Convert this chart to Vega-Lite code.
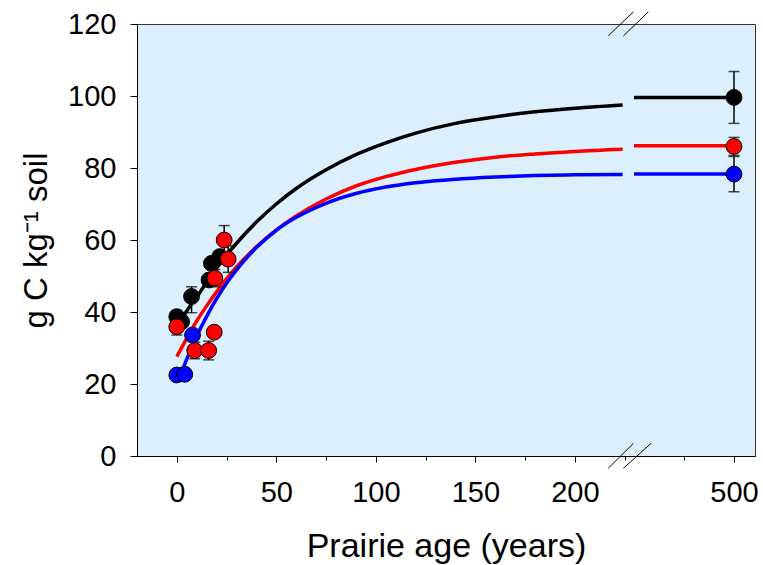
{
  "$schema": "https://vega.github.io/schema/vega-lite/v6.json",
  "width": 618,
  "height": 432,
  "autosize": {"type": "none"},
  "padding": {"left": 137, "top": 24, "right": 8, "bottom": 109},
  "background": "white",
  "config": {
    "view": {"fill": "#DBEFFC", "stroke": "#333333", "strokeWidth": 1},
    "axis": {
      "labelFont": "Liberation Sans",
      "titleFont": "Liberation Sans",
      "labelColor": "#000",
      "titleColor": "#000",
      "domainColor": "#000",
      "tickColor": "#000",
      "grid": false,
      "titleFontWeight": "normal"
    }
  },
  "datasets": {
    "curves": [
      {"series": "S1", "seg": "a", "age": 0, "C": 36.0},
      {"series": "S1", "seg": "a", "age": 5, "C": 40.3},
      {"series": "S1", "seg": "a", "age": 10, "C": 44.1},
      {"series": "S1", "seg": "a", "age": 15, "C": 48.3},
      {"series": "S1", "seg": "a", "age": 20, "C": 52.2},
      {"series": "S1", "seg": "a", "age": 25, "C": 55.8},
      {"series": "S1", "seg": "a", "age": 30, "C": 59.1},
      {"series": "S1", "seg": "a", "age": 40, "C": 65.0},
      {"series": "S1", "seg": "a", "age": 50, "C": 70.0},
      {"series": "S1", "seg": "a", "age": 60, "C": 74.3},
      {"series": "S1", "seg": "a", "age": 75, "C": 79.5},
      {"series": "S1", "seg": "a", "age": 90, "C": 83.7},
      {"series": "S1", "seg": "a", "age": 105, "C": 87.0},
      {"series": "S1", "seg": "a", "age": 120, "C": 89.7},
      {"series": "S1", "seg": "a", "age": 140, "C": 92.4},
      {"series": "S1", "seg": "a", "age": 160, "C": 94.2},
      {"series": "S1", "seg": "a", "age": 180, "C": 95.6},
      {"series": "S1", "seg": "a", "age": 200, "C": 96.6},
      {"series": "S1", "seg": "a", "age": 224, "C": 97.5},
      {"series": "S1", "seg": "b", "age": 450, "C": 99.6},
      {"series": "S1", "seg": "b", "age": 500, "C": 99.6},
      {"series": "S2", "seg": "a", "age": 0, "C": 27.6},
      {"series": "S2", "seg": "a", "age": 5, "C": 32.7},
      {"series": "S2", "seg": "a", "age": 10, "C": 37.5},
      {"series": "S2", "seg": "a", "age": 15, "C": 41.7},
      {"series": "S2", "seg": "a", "age": 20, "C": 45.6},
      {"series": "S2", "seg": "a", "age": 25, "C": 49.2},
      {"series": "S2", "seg": "a", "age": 30, "C": 52.5},
      {"series": "S2", "seg": "a", "age": 40, "C": 58.1},
      {"series": "S2", "seg": "a", "age": 50, "C": 62.8},
      {"series": "S2", "seg": "a", "age": 60, "C": 66.7},
      {"series": "S2", "seg": "a", "age": 75, "C": 71.4},
      {"series": "S2", "seg": "a", "age": 90, "C": 75.0},
      {"series": "S2", "seg": "a", "age": 105, "C": 77.6},
      {"series": "S2", "seg": "a", "age": 120, "C": 79.6},
      {"series": "S2", "seg": "a", "age": 140, "C": 81.6},
      {"series": "S2", "seg": "a", "age": 160, "C": 83.0},
      {"series": "S2", "seg": "a", "age": 180, "C": 83.9},
      {"series": "S2", "seg": "a", "age": 200, "C": 84.6},
      {"series": "S2", "seg": "a", "age": 224, "C": 85.2},
      {"series": "S2", "seg": "b", "age": 450, "C": 86.2},
      {"series": "S2", "seg": "b", "age": 500, "C": 86.2},
      {"series": "S3", "seg": "a", "age": 1, "C": 21.2},
      {"series": "S3", "seg": "a", "age": 5, "C": 26.9},
      {"series": "S3", "seg": "a", "age": 10, "C": 33.3},
      {"series": "S3", "seg": "a", "age": 15, "C": 38.8},
      {"series": "S3", "seg": "a", "age": 20, "C": 43.7},
      {"series": "S3", "seg": "a", "age": 25, "C": 48.0},
      {"series": "S3", "seg": "a", "age": 30, "C": 51.7},
      {"series": "S3", "seg": "a", "age": 40, "C": 57.9},
      {"series": "S3", "seg": "a", "age": 50, "C": 62.7},
      {"series": "S3", "seg": "a", "age": 60, "C": 66.3},
      {"series": "S3", "seg": "a", "age": 75, "C": 70.2},
      {"series": "S3", "seg": "a", "age": 90, "C": 72.9},
      {"series": "S3", "seg": "a", "age": 105, "C": 74.7},
      {"series": "S3", "seg": "a", "age": 120, "C": 75.9},
      {"series": "S3", "seg": "a", "age": 140, "C": 76.9},
      {"series": "S3", "seg": "a", "age": 160, "C": 77.5},
      {"series": "S3", "seg": "a", "age": 180, "C": 77.9},
      {"series": "S3", "seg": "a", "age": 200, "C": 78.1},
      {"series": "S3", "seg": "a", "age": 224, "C": 78.2},
      {"series": "S3", "seg": "b", "age": 450, "C": 78.3},
      {"series": "S3", "seg": "b", "age": 500, "C": 78.3}
    ],
    "pts": [
      {"series": "S1", "age": 0, "C": 38.7, "lo": 37.0, "hi": 40.4},
      {"series": "S1", "age": 2.4, "C": 37.3},
      {"series": "S1", "age": 7.4, "C": 44.3, "lo": 39.8, "hi": 47.0},
      {"series": "S1", "age": 16.2, "C": 48.9},
      {"series": "S1", "age": 17.4, "C": 53.5},
      {"series": "S1", "age": 21.6, "C": 55.4},
      {"series": "S1", "age": 500, "C": 99.6, "lo": 92.4, "hi": 106.8},
      {"series": "S2", "age": 0, "C": 35.9, "lo": 33.6, "hi": 38.2},
      {"series": "S2", "age": 9, "C": 29.3, "lo": 27.0, "hi": 31.6},
      {"series": "S2", "age": 16, "C": 29.3, "lo": 26.7, "hi": 31.9},
      {"series": "S2", "age": 18.8, "C": 34.4},
      {"series": "S2", "age": 19.1, "C": 49.4, "lo": 47.0, "hi": 51.8},
      {"series": "S2", "age": 23.8, "C": 60.0, "lo": 56.0, "hi": 64.0},
      {"series": "S2", "age": 25.8, "C": 54.7, "lo": 51.0, "hi": 58.4},
      {"series": "S2", "age": 500, "C": 86.0, "lo": 83.5, "hi": 88.5},
      {"series": "S3", "age": 0, "C": 22.5},
      {"series": "S3", "age": 4, "C": 22.7},
      {"series": "S3", "age": 7.9, "C": 33.6},
      {"series": "S3", "age": 500, "C": 78.3, "lo": 73.4, "hi": 83.2}
    ],
    "brk": [
      {"x1": 216.8, "x2": 449.7, "y1": 116.7, "y2": 123.4},
      {"x1": 224.4, "x2": 457.2, "y1": 116.7, "y2": 123.4},
      {"x1": 216.8, "x2": 449.7, "y1": -3.4, "y2": 3.5},
      {"x1": 224.4, "x2": 458.5, "y1": -3.4, "y2": 3.5}
    ]
  },
  "layer": [
    {
      "layer": [
        {
          "data": {"name": "curves"},
          "mark": {"type": "line", "strokeWidth": 3.5, "interpolate": "monotone"},
          "encoding": {
            "x": {
              "field": "age", "type": "quantitative",
              "scale": {"domain": [-20, 226.7, 447, 510.5], "range": [0, 491, 491, 618], "nice": false, "zero": false},
              "axis": {
                "values": [0, 50, 100, 150, 200, 500],
                "tickSize": 6, "labelFontSize": 29, "labelPadding": 16,
                "title": "Prairie age (years)", "titleFontSize": 34, "titlePadding": 22
              }
            },
            "y": {
              "field": "C", "type": "quantitative",
              "scale": {"domain": [0, 120], "nice": false, "zero": true},
              "axis": {
                "values": [0, 20, 40, 60, 80, 100, 120],
                "tickSize": 7, "labelFontSize": 29, "labelPadding": 14,
                "title": "g C kg⁻¹ soil", "titleFontSize": 33, "titlePadding": 14
              }
            },
            "color": {"field": "series", "type": "nominal", "scale": {"domain": ["S1", "S2", "S3"], "range": ["#000000", "#FF0000", "#0000FF"]}, "legend": null},
            "detail": {"field": "seg"}
          }
        },
        {
          "data": {"name": "pts"},
          "transform": [{"filter": "isValid(datum.lo)"}],
          "mark": {"type": "rule", "strokeWidth": 1.5, "color": "#000"},
          "encoding": {
            "x": {"field": "age", "type": "quantitative", "scale": {"domain": [-20, 226.7, 447, 510.5], "range": [0, 491, 491, 618], "nice": false, "zero": false}},
            "y": {"field": "lo", "type": "quantitative", "scale": {"domain": [0, 120], "nice": false, "zero": true}},
            "y2": {"field": "hi"}
          }
        },
        {
          "data": {"name": "pts"},
          "transform": [{"filter": "isValid(datum.lo)"}],
          "mark": {"type": "tick", "orient": "horizontal", "size": 11, "thickness": 1.5, "color": "#000"},
          "encoding": {
            "x": {"field": "age", "type": "quantitative", "scale": {"domain": [-20, 226.7, 447, 510.5], "range": [0, 491, 491, 618], "nice": false, "zero": false}},
            "y": {"field": "lo", "type": "quantitative", "scale": {"domain": [0, 120], "nice": false, "zero": true}}
          }
        },
        {
          "data": {"name": "pts"},
          "transform": [{"filter": "isValid(datum.hi)"}],
          "mark": {"type": "tick", "orient": "horizontal", "size": 11, "thickness": 1.5, "color": "#000"},
          "encoding": {
            "x": {"field": "age", "type": "quantitative", "scale": {"domain": [-20, 226.7, 447, 510.5], "range": [0, 491, 491, 618], "nice": false, "zero": false}},
            "y": {"field": "hi", "type": "quantitative", "scale": {"domain": [0, 120], "nice": false, "zero": true}}
          }
        },
        {
          "data": {"name": "pts"},
          "mark": {"type": "circle", "size": 250, "opacity": 1, "stroke": "#000", "strokeWidth": 1},
          "encoding": {
            "x": {"field": "age", "type": "quantitative", "scale": {"domain": [-20, 226.7, 447, 510.5], "range": [0, 491, 491, 618], "nice": false, "zero": false}},
            "y": {"field": "C", "type": "quantitative", "scale": {"domain": [0, 120], "nice": false, "zero": true}},
            "color": {"field": "series", "type": "nominal", "scale": {"domain": ["S1", "S2", "S3"], "range": ["#000000", "#FF0000", "#0000FF"]}, "legend": null}
          }
        }
      ]
    },
    {
      "data": {"name": "brk"},
      "mark": {"type": "rule", "strokeWidth": 1, "color": "#000", "clip": false},
      "encoding": {
        "x": {
          "field": "x1", "type": "quantitative",
          "scale": {"domain": [-20, 226.7, 447, 510.5], "range": [0, 491, 491, 618], "nice": false, "zero": false},
          "axis": {"orient": "bottom", "values": [25, 75, 125, 175, 225, 475], "tickSize": 4, "labels": false, "domain": false, "title": null, "grid": false}
        },
        "x2": {"field": "x2"},
        "y": {
          "field": "y1", "type": "quantitative",
          "scale": {"domain": [0, 120], "nice": false, "zero": true},
          "axis": {
            "values": [0, 20, 40, 60, 80, 100, 120],
            "tickSize": 7, "labelFontSize": 29, "labelPadding": 14,
            "title": "g C kg⁻¹ soil", "titleFontSize": 33, "titlePadding": 14
          }
        },
        "y2": {"field": "y2"}
      }
    }
  ],
  "resolve": {"axis": {"x": "independent"}}
}
